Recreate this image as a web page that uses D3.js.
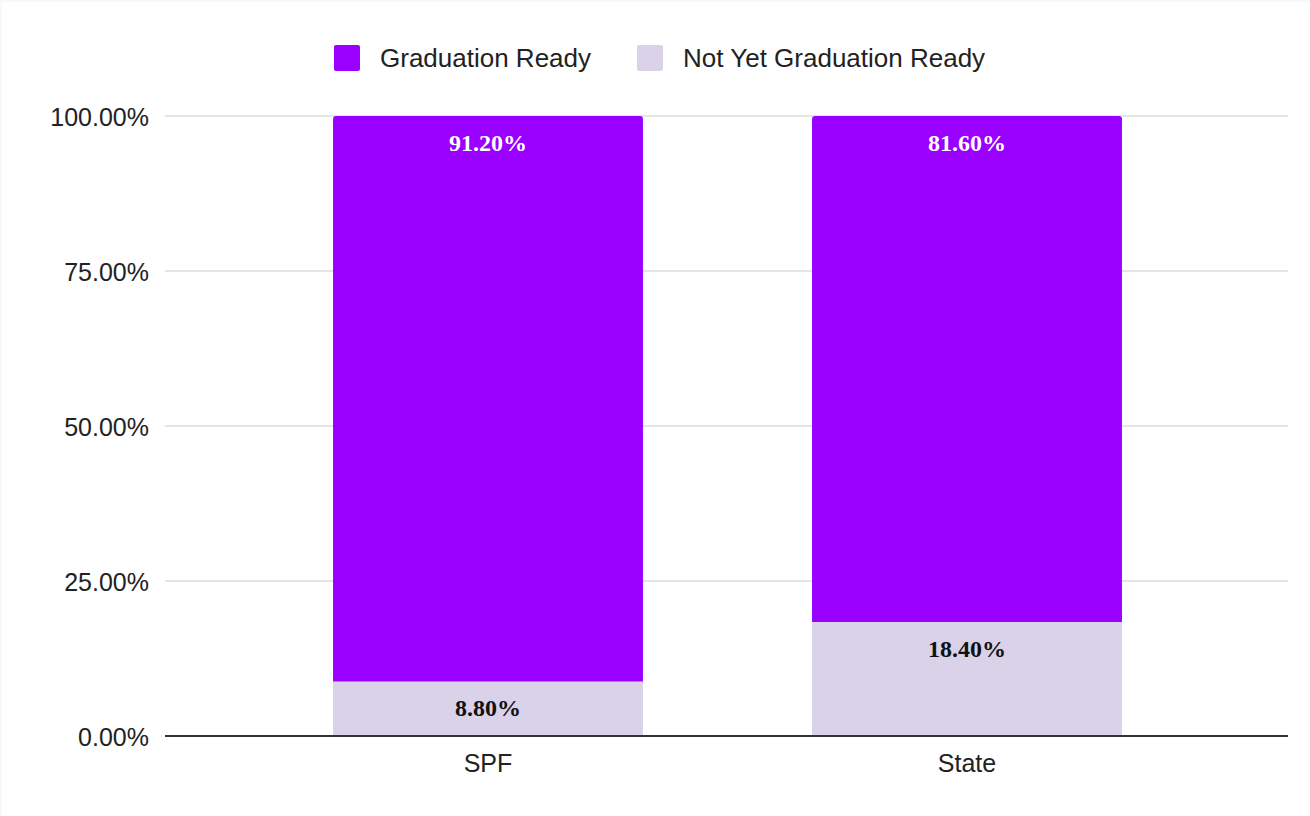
<!DOCTYPE html>
<html><head><meta charset="utf-8">
<script src="https://cdn.jsdelivr.net/npm/d3@7"></script>
<style>html,body{margin:0;padding:0;background:#f5f8fc;}svg{display:block;}</style>
</head><body>
<script>
const categories = ["SPF", "State"];
const seriesNames = ["Not Yet Graduation Ready", "Graduation Ready"];
const notReady = [8.8, 18.4];
const ready = [91.2, 81.6];
const yTicks = [0, 25, 50, 75, 100];
const legendOrder = ["Graduation Ready", "Not Yet Graduation Ready"];
const colors = {"Graduation Ready": "#9900ff", "Not Yet Graduation Ready": "#d9d2e9"};
const labelColors = {"Graduation Ready": "#ffffff", "Not Yet Graduation Ready": "#111111"};

const W = 1310, H = 816;
const sans = "Arial, 'Liberation Sans', sans-serif";
const svg = d3.select("body").append("svg").attr("width", W).attr("height", H);
svg.append("rect").attr("x", 2).attr("y", 2).attr("width", W - 2).attr("height", H - 2).attr("fill", "#fff");

const x0 = 165, x1 = 1288, yTop = 116, yBot = 736;
const y = d3.scaleLinear().domain([0, 100]).range([yBot, yTop]);
const x = d3.scaleBand().domain(categories).range([248.5, 1206.5]).paddingInner(0.353).paddingOuter(0.1765);

// grid
svg.append("g").selectAll("line").data(yTicks.filter(t => t > 0)).join("line")
  .attr("x1", x0).attr("x2", x1).attr("y1", d => y(d)).attr("y2", d => y(d))
  .attr("stroke", "#cccccc").attr("stroke-width", 1.2);

// y axis labels
const yAxis = d3.axisLeft(y).tickValues(yTicks).tickSize(0).tickPadding(16).tickFormat(d => d.toFixed(2) + "%");
const gy = svg.append("g").attr("transform", `translate(${x0},0)`).call(yAxis);
gy.select(".domain").remove();
gy.selectAll("text").attr("font-family", sans).attr("font-size", 25).attr("fill", "#222").attr("dy", "0.38em");

// stacked data
const rows = categories.map((c, i) => ({cat: c, "Not Yet Graduation Ready": notReady[i], "Graduation Ready": ready[i]}));
const stack = d3.stack().keys(seriesNames)(rows);

const g = svg.append("g");
stack.forEach(layer => {
  const key = layer.key;
  layer.forEach(d => {
    const bx = x(d.data.cat), bw = x.bandwidth();
    const top = y(d[1]), bottom = y(d[0]);
    if (key === "Graduation Ready") {
      const r = 3;
      const p = `M${bx},${bottom} L${bx},${top + r} Q${bx},${top} ${bx + r},${top} L${bx + bw - r},${top} Q${bx + bw},${top} ${bx + bw},${top + r} L${bx + bw},${bottom} Z`;
      g.append("path").attr("d", p).attr("fill", colors[key]);
    } else {
      g.append("rect").attr("x", bx).attr("y", top).attr("width", bw).attr("height", bottom - top).attr("fill", colors[key]);
    }
    g.append("text").attr("x", bx + bw / 2).attr("y", top + 35)
      .attr("text-anchor", "middle").attr("font-family", "'Liberation Serif', 'Times New Roman', serif")
      .attr("font-weight", "bold").attr("font-size", 24).attr("fill", labelColors[key])
      .text((d[1] - d[0]).toFixed(2) + "%");
  });
});

// x axis
svg.append("line").attr("x1", x0).attr("x2", x1).attr("y1", yBot).attr("y2", yBot).attr("stroke", "#333").attr("stroke-width", 2);
const xAxis = d3.axisBottom(x).tickSize(0);
const gx = svg.append("g").attr("transform", `translate(0,${yBot})`).call(xAxis);
gx.select(".domain").remove();
gx.selectAll("text").attr("font-family", sans).attr("font-size", 25).attr("fill", "#222").attr("y", 36).attr("dy", 0);

// legend
const legX = [334, 637];
const lg = svg.append("g");
legendOrder.forEach((k, i) => {
  lg.append("rect").attr("x", legX[i]).attr("y", 45).attr("width", 26).attr("height", 26).attr("rx", 2).attr("fill", colors[k]);
  lg.append("text").attr("x", legX[i] + 46).attr("y", 67)
    .attr("font-family", sans).attr("font-size", 26).attr("fill", "#222").text(k);
});
</script>
</body></html>
